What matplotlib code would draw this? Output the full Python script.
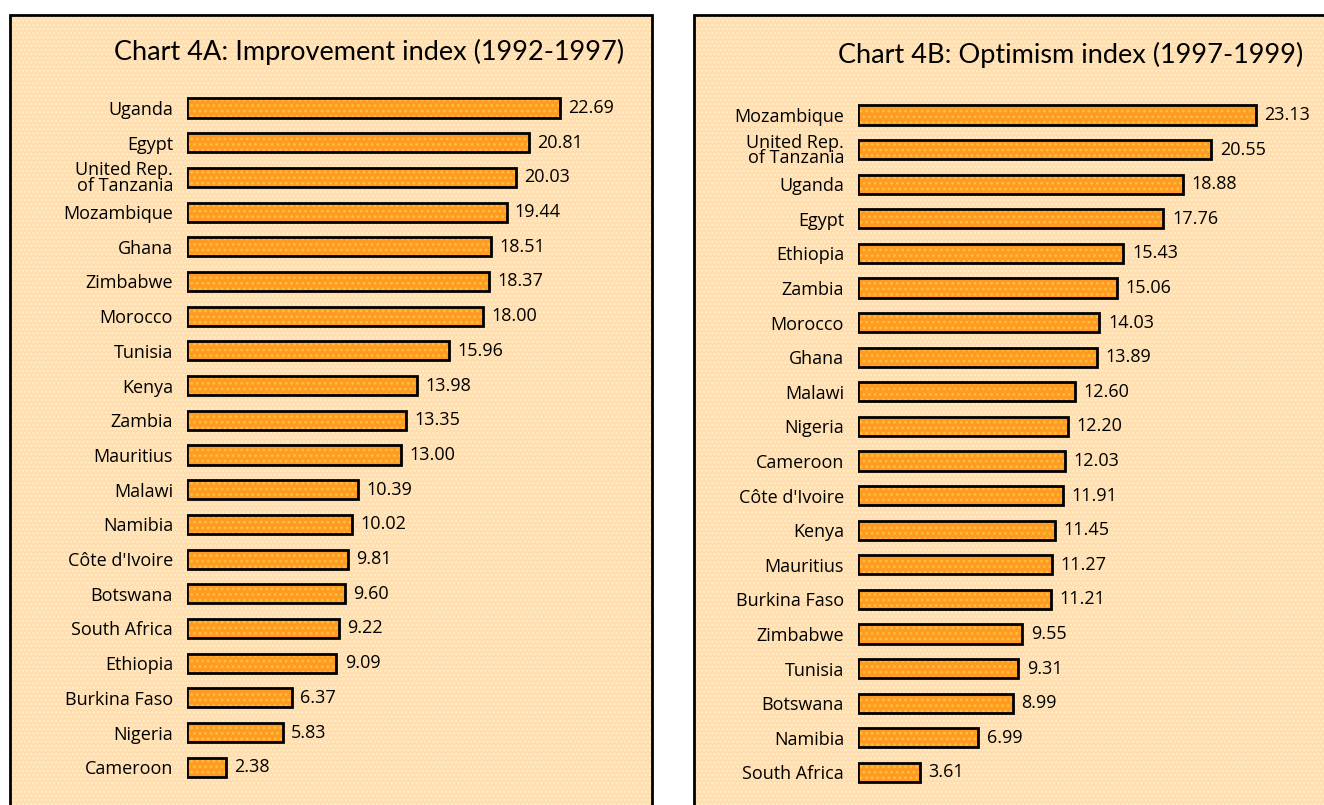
import matplotlib
matplotlib.use('Agg')
import matplotlib.pyplot as plt
from matplotlib.patches import Rectangle

plt.rcParams['font.family'] = ['Open Sans', 'DejaVu Sans']
plt.rcParams['hatch.linewidth'] = 1.2

# Chart 4A data
countries_a = ['Uganda', 'Egypt', 'United Rep.\nof Tanzania', 'Mozambique', 'Ghana',
               'Zimbabwe', 'Morocco', 'Tunisia', 'Kenya', 'Zambia', 'Mauritius',
               'Malawi', 'Namibia', "Côte d'Ivoire", 'Botswana', 'South Africa',
               'Ethiopia', 'Burkina Faso', 'Nigeria', 'Cameroon']
values_a = [22.69, 20.81, 20.03, 19.44, 18.51, 18.37, 18.00, 15.96, 13.98, 13.35,
            13.00, 10.39, 10.02, 9.81, 9.60, 9.22, 9.09, 6.37, 5.83, 2.38]

# Chart 4B data
countries_b = ['Mozambique', 'United Rep.\nof Tanzania', 'Uganda', 'Egypt', 'Ethiopia',
               'Zambia', 'Morocco', 'Ghana', 'Malawi', 'Nigeria', 'Cameroon',
               "Côte d'Ivoire", 'Kenya', 'Mauritius', 'Burkina Faso', 'Zimbabwe',
               'Tunisia', 'Botswana', 'Namibia', 'South Africa']
values_b = [23.13, 20.55, 18.88, 17.76, 15.43, 15.06, 14.03, 13.89, 12.60, 12.20,
            12.03, 11.91, 11.45, 11.27, 11.21, 9.55, 9.31, 8.99, 6.99, 3.61]

title_a = 'Chart 4A: Improvement index (1992-1997)'
title_b = 'Chart 4B: Optimism index (1997-1999)'

W, H = 1324, 805
BG = '#FFDDB0'
BG_DOT = '#FFEFC4'
BAR = '#FF9A22'
BAR_DOT = '#FFC13A'

fig = plt.figure(figsize=(W / 100, H / 100), dpi=100)


def px_box(x0, y_top, w, h):
    # pixel box (from top-left) -> figure fraction rect
    return [x0 / W, (H - y_top - h) / H, w / W, h / H]


def panel(x0, x1, title, tx, ty):
    for kw in (dict(facecolor=BG, edgecolor=BG_DOT, hatch='....', lw=0),
               dict(fill=False, edgecolor='black', lw=2)):
        fig.patches.append(Rectangle((x0 / W, -0.1), (x1 - x0) / W, (H - 15) / H + 0.1,
                                     transform=fig.transFigure, zorder=-5, **kw))
    fig.text(tx / W, 1 - ty / H, title, ha='center', va='center', fontsize=19.5,
             family=['Lato', 'DejaVu Sans'])


def bars(countries, values, x0, top, scale, step):
    n = len(values)
    width = 26 * scale
    ax = fig.add_axes(px_box(x0, top - step / 2, width, n * step))
    ax.set_facecolor('none')
    ax.set_zorder(2)
    pos = list(range(n))
    ax.barh(pos, values, height=0.55, color=BAR, edgecolor=BAR_DOT, hatch='...', lw=0)
    ax.barh(pos, values, height=0.55, fill=False, edgecolor='black', lw=2)
    for i, v in enumerate(values):
        ax.text(v + 0.5, i, f'{v:.2f}', va='center', ha='left', fontsize=13)
    ax.set_xlim(0, 26)
    ax.set_ylim(n - 0.5, -0.5)
    ax.set_xticks([])
    ax.set_yticks(pos)
    ax.set_yticklabels(countries, fontsize=13, linespacing=0.8)
    ax.tick_params(axis='y', length=0, pad=10)
    for s in ax.spines.values():
        s.set_visible(False)
    return ax


panel(10, 652, title_a, 369, 52)
panel(694, 1340, title_b, 1071, 55)

bars(countries_a, values_a, 187, 108, 16.44, 34.7)
bars(countries_b, values_b, 858, 115, 17.2, 34.6)

fig.savefig('out.png', dpi=100, facecolor='white')
